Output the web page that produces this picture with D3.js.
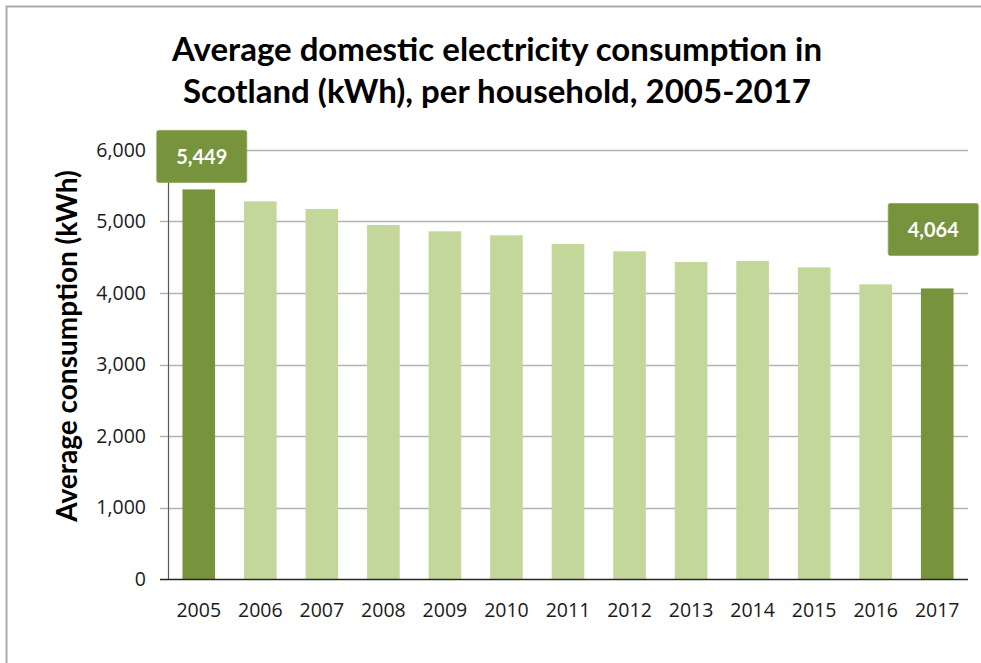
<!DOCTYPE html>
<html>
<head>
<meta charset="utf-8">
<script src="https://cdn.jsdelivr.net/npm/d3@7"></script>
<style>
  html, body { margin: 0; padding: 0; background: #fff; }
  svg { display: block; }
</style>
</head>
<body>
<svg id="chart" width="981" height="663"></svg>
<script>
// ---- Data ----
const years = ["2005","2006","2007","2008","2009","2010","2011","2012","2013","2014","2015","2016","2017"];
const consumption = [5449, 5282, 5175, 4951, 4863, 4807, 4685, 4583, 4434, 4448, 4359, 4121, 4064];
const highlighted = ["2005", "2017"];
const yTicks = [0, 1000, 2000, 3000, 4000, 5000, 6000];
const titleLines = ["Average domestic electricity consumption in", "Scotland (kWh), per household, 2005-2017"];
const yAxisTitle = "Average consumption (kWh)";

// ---- Layout / style ----
const W = 981, H = 663;
const plot = { left: 168, right: 968, top: 150, bottom: 579 };
const colDark = "#77933C", colLight = "#C4D79B";
const labelBox = { w: 90, h: 52 };
const labelOffsets = { "2005": { dx: 3, dy: -33 }, "2017": { dx: -4, dy: -59 } };

const svg = d3.select("#chart");

// frame
svg.append("rect").attr("x", 0).attr("y", 0).attr("width", W).attr("height", H).attr("fill", "#fff");
svg.append("line").attr("x1", 6).attr("x2", W).attr("y1", 6.5).attr("y2", 6.5).attr("stroke", "#a9a9a9").attr("stroke-width", 2);
svg.append("line").attr("x1", 6.5).attr("x2", 6.5).attr("y1", 6).attr("y2", H).attr("stroke", "#a9a9a9").attr("stroke-width", 2);

const x = d3.scaleBand().domain(years).range([plot.left, plot.right]).paddingInner(0.47).paddingOuter(0.235);
const y = d3.scaleLinear().domain([0, 6000]).range([plot.bottom, plot.top]);

// gridlines (extend left of axis as tick marks)
svg.append("g").selectAll("line").data(yTicks.filter(d => d > 0)).join("line")
  .attr("x1", plot.left - 8).attr("x2", plot.right)
  .attr("y1", d => Math.round(y(d)) + 0.5).attr("y2", d => Math.round(y(d)) + 0.5)
  .attr("stroke", "#b3b3b3").attr("stroke-width", 1.3);

// bars
svg.append("g").selectAll("rect").data(years).join("rect")
  .attr("x", d => x(d)).attr("width", x.bandwidth())
  .attr("y", (d, i) => y(consumption[i]))
  .attr("height", (d, i) => y(0) - y(consumption[i]))
  .attr("fill", d => highlighted.includes(d) ? colDark : colLight);

// y axis line
svg.append("line").attr("x1", plot.left + 0.5).attr("x2", plot.left + 0.5)
  .attr("y1", plot.top).attr("y2", plot.bottom).attr("stroke", "#595959").attr("stroke-width", 1.2);
// x axis line
svg.append("line").attr("x1", plot.left - 8).attr("x2", plot.right)
  .attr("y1", plot.bottom + 0.5).attr("y2", plot.bottom + 0.5).attr("stroke", "#262626").attr("stroke-width", 1.3);

// y tick labels
const fmt = d3.format(",");
svg.append("g").selectAll("text").data(yTicks).join("text")
  .attr("x", 146).attr("y", d => y(d))
  .attr("dy", "0.35em")
  .attr("text-anchor", "end")
  .attr("font-family", "'Open Sans', sans-serif").attr("font-size", 19.5)
  .attr("fill", "#1a1a1a")
  .text(d => fmt(d));

// x tick labels
svg.append("g").selectAll("text").data(years).join("text")
  .attr("x", d => x(d) + x.bandwidth() / 2).attr("y", 617)
  .attr("text-anchor", "middle")
  .attr("font-family", "'Open Sans', sans-serif").attr("font-size", 19.5)
  .attr("fill", "#1a1a1a")
  .text(d => d);

// title
svg.append("g").selectAll("text").data(titleLines).join("text")
  .attr("x", 497).attr("y", (d, i) => 61 + i * 42)
  .attr("text-anchor", "middle")
  .attr("font-family", "Lato, sans-serif").attr("font-weight", "bold").attr("font-size", 33)
  .attr("fill", "#000")
  .text(d => d);

// y axis title
svg.append("text")
  .attr("transform", "translate(77,346) rotate(-90)")
  .attr("text-anchor", "middle")
  .attr("font-family", "Lato, sans-serif").attr("font-weight", "bold").attr("font-size", 28)
  .attr("fill", "#000")
  .text(yAxisTitle);

// value labels
const labelData = years.map((yr, i) => ({ yr, v: consumption[i] })).filter(d => highlighted.includes(d.yr));
const lg = svg.append("g").selectAll("g").data(labelData).join("g")
  .attr("transform", d => {
    const cx = x(d.yr) + x.bandwidth() / 2 + labelOffsets[d.yr].dx;
    const cy = y(d.v) + labelOffsets[d.yr].dy;
    return `translate(${cx},${cy})`;
  });
lg.append("rect")
  .attr("x", -labelBox.w / 2).attr("y", -labelBox.h / 2)
  .attr("width", labelBox.w).attr("height", labelBox.h)
  .attr("rx", 2).attr("fill", colDark).attr("stroke", "#8aa64e").attr("stroke-width", 0.8);
lg.append("text")
  .attr("text-anchor", "middle").attr("dy", "0.36em")
  .attr("font-family", "Lato, sans-serif").attr("font-weight", "bold").attr("font-size", 20)
  .attr("fill", "#fff")
  .text(d => fmt(d.v));
</script>
</body>
</html>
